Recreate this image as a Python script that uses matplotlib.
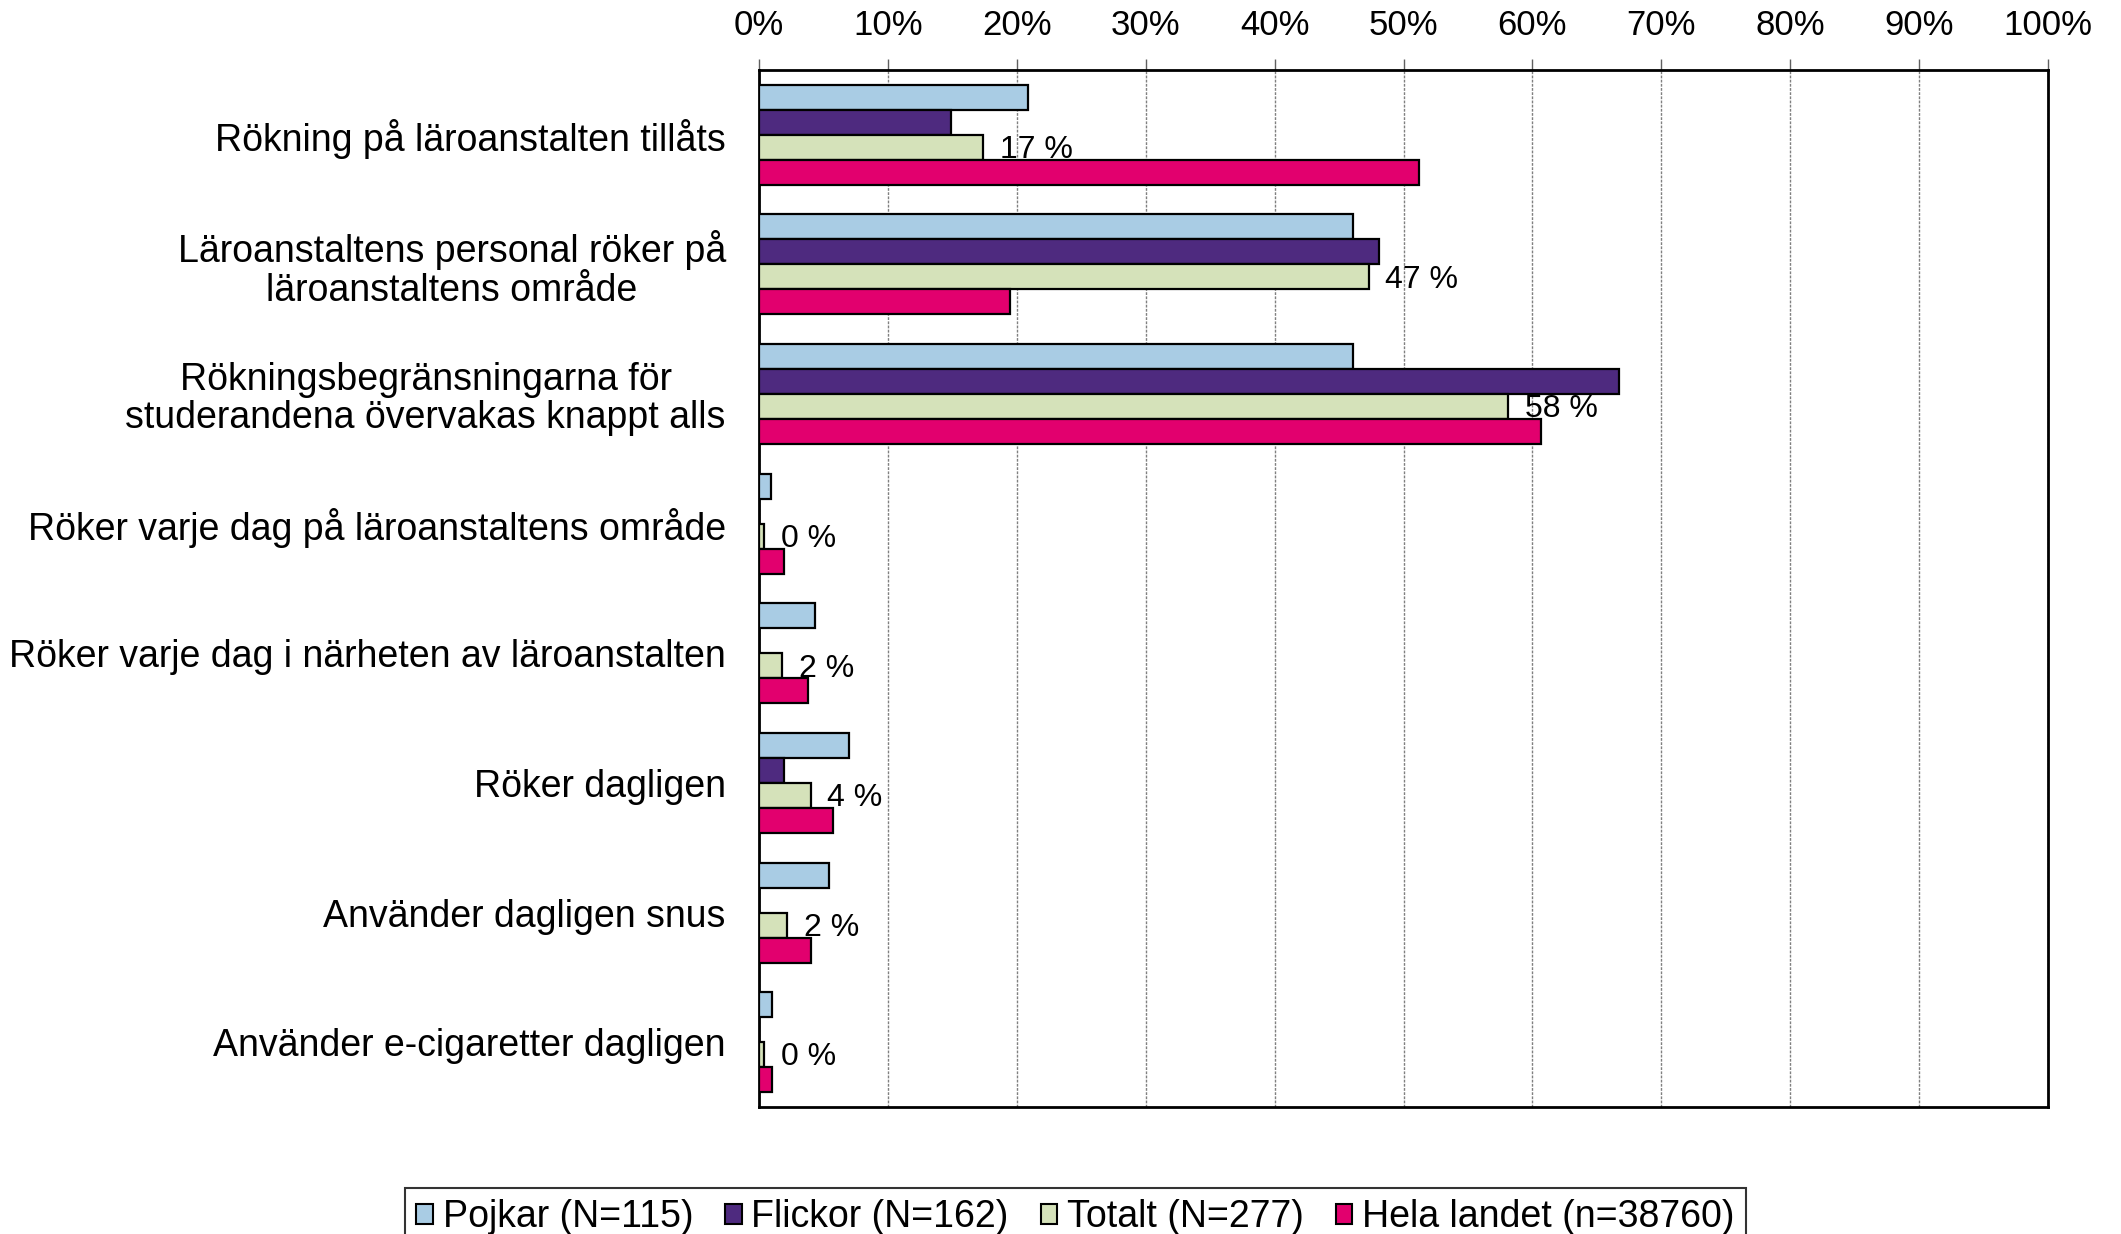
import numpy as np
import matplotlib
matplotlib.use("Agg")
import matplotlib.pyplot as plt
from matplotlib.patches import Patch

plt.rcParams['font.family'] = ['Liberation Sans', 'DejaVu Sans']

# kategorierna (uppifrån och ner)
kategorier = [
    'Rökning på läroanstalten tillåts',
    'Läroanstaltens personal röker på\nläroanstaltens område',
    'Rökningsbegränsningarna för\nstuderandena övervakas knappt alls',
    'Röker varje dag på läroanstaltens område',
    'Röker varje dag i närheten av läroanstalten',
    'Röker dagligen',
    'Använder dagligen snus',
    'Använder e-cigaretter dagligen',
]

# värden i procent
pojkar = [20.9, 46.1, 46.1, 0.9, 4.3, 7.0, 5.4, 1.0]
flickor = [14.9, 48.1, 66.7, 0.0, 0.0, 1.9, 0.0, 0.0]
totalt = [17.4, 47.3, 58.1, 0.4, 1.8, 4.0, 2.2, 0.4]
hela_landet = [51.2, 19.5, 60.7, 1.9, 3.8, 5.7, 4.0, 1.0]

serie_namn = ['Pojkar (N=115)', 'Flickor (N=162)', 'Totalt (N=277)', 'Hela landet (n=38760)']
farger = ['#A9CCE4', '#4E2A7F', '#D5E2BA', '#E2006E']

x_ticks = np.arange(0, 101, 10)
x_etiketter = [f'{v}%' for v in x_ticks]

fig = plt.figure(figsize=(21.21, 12.34), dpi=100)
ax = fig.add_axes([0.3579, 0.1029, 0.6077, 0.8404])

pos = np.arange(len(kategorier))
h = 0.193
serier = [pojkar, flickor, totalt, hela_landet]

# staplarna, fyra per kategori
for i, (varden, farg) in enumerate(zip(serier, farger)):
    y = pos + (i - 1.5) * h
    ax.barh(y, varden, height=h, color=farg, edgecolor='black', linewidth=1.6, zorder=3)

# etiketter bara för totalt-serien
for k, v in enumerate(totalt):
    ax.annotate(f'{v:.0f} %', xy=(v, pos[k] + 0.5 * h), xytext=(12, -2),
                textcoords='offset points', ha='left', va='center', fontsize=23, zorder=4)

ax.set_xlim(0, 100)
ax.set_ylim(len(kategorier) - 0.5, -0.5)

ax.set_xticks(x_ticks)
ax.set_xticklabels(x_etiketter)
ax.xaxis.tick_top()
ax.tick_params(axis='x', direction='out', length=8, width=1, color='#606060',
               labelsize=25, pad=12)

ax.set_yticks(pos)
ax.set_yticklabels(kategorier, fontsize=27, linespacing=1.08, multialignment='center')
ax.tick_params(axis='y', length=0, pad=24)

# streckade rutnätslinjer
ax.grid(axis='x', color='#808080', linestyle=(0, (2, 1)), linewidth=1.0, zorder=0)
ax.set_axisbelow(True)

for s in ax.spines.values():
    s.set_linewidth(2.0)
    s.set_color('black')

# förklaringen längst ner
handtag = [Patch(facecolor=f, edgecolor='black', linewidth=1.5) for f in farger]
leg = fig.legend(handtag, serie_namn, loc='upper center', bbox_to_anchor=(0.507, 1 - 1188 / 1234),
                 ncol=4, fontsize=27, frameon=True, fancybox=False, edgecolor='black',
                 handlelength=0.45, handleheight=0.45, handletextpad=0.25, columnspacing=0.85,
                 borderpad=0.3, borderaxespad=0)
leg.get_frame().set_linewidth(1.5)

fig.savefig('out.png', dpi=100)
